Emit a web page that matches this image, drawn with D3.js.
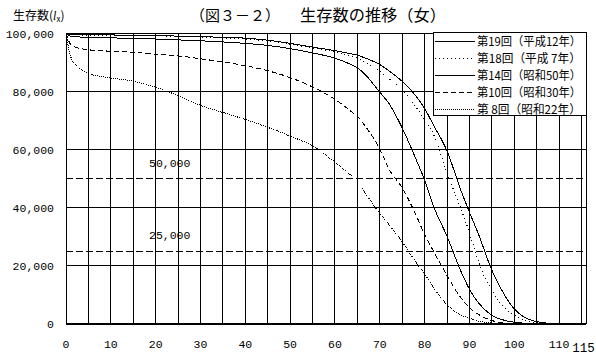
<!DOCTYPE html>
<html>
<head>
<meta charset="utf-8">
<script src="https://cdn.jsdelivr.net/npm/d3@7"></script>
<style>
  body { margin: 0; background: #fff; }
  svg { display: block; }
  .jp { font-family: "Noto Sans CJK JP", sans-serif; fill: #000; }
  .num { font-family: "Liberation Mono", "DejaVu Sans Mono", monospace; font-size: 11.5px; fill: #000; }
</style>
</head>
<body>
<div id="chart"></div>
<script>
var fullwidth = 596, fullheight = 355;

// ages (x) and survivors l(x) in thousands
var ages = [0,1,2,3,5,10,15,20,25,30,35,40,45,50,55,60,64,65,66,70,72,75,78,80,82,85,88,90,92,95,98,100,102,105,110];
var s19 = [100,99.7,99.65,99.6,99.55,99.5,99.4,99.3,99.1,98.9,98.7,98.4,97.7,96.6,95.3,94.1,92.9,92.6,92.0,89.3,87.2,83.5,78.6,74.2,68.4,59.6,46.4,38.5,31.0,18.5,9.5,5.2,2.6,0.8,0];
var s18 = [100,99.6,99.55,99.5,99.45,99.4,99.3,99.2,99.0,98.8,98.5,98.1,97.4,96.3,95.0,93.6,92.0,91.5,90.8,87.0,84.5,80.5,74.8,70.3,65.2,52.0,40.0,31.5,21.5,11.5,5.3,3.0,1.5,0.4,0];
var s14 = [100,99.0,98.9,98.8,98.7,98.5,98.3,98.1,97.8,97.5,97.1,96.6,95.9,94.8,93.3,91.5,89.0,88.2,87.0,79.8,76.0,67.5,57.0,49.5,40.5,30.2,18.5,12.0,7.3,3.0,1.2,0.6,0.3,0.1,0];
var s10 = [100,96.3,95.3,94.9,94.4,93.9,93.5,92.9,92.3,91.3,90.2,88.9,87.2,84.8,81.6,77.3,72.7,71.5,69.6,60.2,53.5,46.8,37.8,30.8,25.0,16.7,9.2,5.6,3.3,1.2,0.3,0.1,0,0,0];
var s8  = [100,92.3,89.5,88.0,86.3,84.7,83.6,81.5,78.6,75.3,72.8,70.4,67.7,64.7,61.3,55.7,50.6,null,46.7,38.1,34.3,28.3,21.4,17.2,12.5,6.7,3.2,2.0,1.0,0.3,0.1,0,0,0,0];

var seriesNames = ["第19回（平成12年）", "第18回（平成 7年）", "第14回（昭和50年）", "第10回（昭和30年）", "第 8回（昭和22年）"];
var seriesValues = [s19, s18, s14, s10, s8];
var seriesDash = [null, "1,3", null, "5,3", "1,1"];

var yTicks = [0, 20, 40, 60, 80, 100];
var refLines = [50, 25];
var xGrid = d3.range(0, 116, 5);
var xLabels = [0,10,20,30,40,50,60,70,80,90,100,110];
var xEndLabel = 115;

var fmt = function(v) { return d3.format(",")(v * 1000); };

var svg = d3.select("#chart").append("svg")
    .attr("width", fullwidth)
    .attr("height", fullheight);

var xScale = d3.scaleLinear().domain([0, 115]).range([66, 581.5]);
var yScale = d3.scaleLinear().domain([0, 100]).range([324, 33.5]);
var plotRight = 586;

// titles
svg.append("text").attr("class", "jp")
    .attr("x", 190).attr("y", 21)
    .attr("textLength", 90).attr("lengthAdjust", "spacingAndGlyphs")
    .style("font-size", "15px")
    .text("（図３－２）");
svg.append("text").attr("class", "jp")
    .attr("x", 300).attr("y", 21)
    .attr("textLength", 146).attr("lengthAdjust", "spacingAndGlyphs")
    .style("font-size", "16px")
    .text("生存数の推移（女）");

var ylab = svg.append("text").attr("class", "jp")
    .attr("x", 13).attr("y", 20)
    .style("font-size", "12px");
ylab.append("tspan").text("生存数(");
ylab.append("tspan").style("font-style", "italic").style("font-family", "Liberation Serif, serif").text("l");
ylab.append("tspan").attr("dy", 2).style("font-size", "8px").text("x");
ylab.append("tspan").attr("dy", -2).text(")");

// grid
var grid = svg.append("g").attr("shape-rendering", "crispEdges").attr("stroke", "#000");

grid.selectAll("line.vx")
    .data(xGrid)
    .enter().append("line")
    .attr("class", "vx")
    .attr("x1", function(d) { return xScale(d); })
    .attr("x2", function(d) { return xScale(d); })
    .attr("y1", yScale(100))
    .attr("y2", yScale(0));

grid.append("line")
    .attr("x1", plotRight).attr("x2", plotRight)
    .attr("y1", yScale(100)).attr("y2", yScale(0));

grid.selectAll("line.hy")
    .data(yTicks.slice(1))
    .enter().append("line")
    .attr("class", "hy")
    .attr("x1", xScale(0))
    .attr("x2", plotRight)
    .attr("y1", function(d) { return yScale(d); })
    .attr("y2", function(d) { return yScale(d); });

grid.selectAll("line.ref")
    .data(refLines)
    .enter().append("line")
    .attr("class", "ref")
    .attr("x1", xScale(0))
    .attr("x2", plotRight)
    .attr("y1", function(d) { return yScale(d); })
    .attr("y2", function(d) { return yScale(d); })
    .attr("stroke-dasharray", "7,3");

svg.selectAll("text.reflab")
    .data(refLines)
    .enter().append("text")
    .attr("class", "num reflab")
    .attr("x", 149)
    .attr("y", function(d) { return yScale(d) - 12; })
    .text(function(d) { return fmt(d); });

// curves
var line = d3.line()
    .defined(function(d) { return d[1] != null; })
    .x(function(d) { return xScale(d[0]); })
    .y(function(d) { return yScale(d[1]); })
    .curve(d3.curveMonotoneX);

svg.selectAll("path.curve")
    .data(seriesValues)
    .enter().append("path")
    .attr("class", "curve")
    .attr("d", function(vals) {
        return line(ages.map(function(a, i) { return [a, vals[i]]; }));
    })
    .attr("fill", "none")
    .attr("stroke", "#000")
    .attr("stroke-width", 1)
    .attr("shape-rendering", "crispEdges")
    .attr("stroke-dasharray", function(d, i) { return seriesDash[i]; });

// x axis base line
svg.append("line")
    .attr("x1", xScale(0)).attr("x2", plotRight)
    .attr("y1", yScale(0)).attr("y2", yScale(0))
    .attr("stroke", "#000").attr("stroke-width", 2.5)
    .attr("shape-rendering", "crispEdges");

// tick labels
svg.selectAll("text.ylab")
    .data(yTicks)
    .enter().append("text")
    .attr("class", "num ylab")
    .attr("x", 54)
    .attr("y", function(d) { return yScale(d) + 4; })
    .attr("text-anchor", "end")
    .text(function(d) { return fmt(d); });

svg.selectAll("text.xlab")
    .data(xLabels)
    .enter().append("text")
    .attr("class", "num xlab")
    .attr("x", function(d) { return xScale(d); })
    .attr("y", 348)
    .attr("text-anchor", "middle")
    .text(function(d) { return d; });

svg.append("text")
    .attr("class", "num")
    .attr("x", xScale(xEndLabel) + 2)
    .attr("y", 352)
    .attr("text-anchor", "middle")
    .style("font-size", "12.5px")
    .text(xEndLabel);

// legend
var legend = svg.append("g");
legend.append("rect")
    .attr("x", 433.5).attr("y", 32.5)
    .attr("width", 152.5).attr("height", 82.5)
    .attr("fill", "#fff").attr("stroke", "#000")
    .attr("shape-rendering", "crispEdges");

var rows = legend.selectAll("g.row")
    .data(seriesNames)
    .enter().append("g")
    .attr("class", "row")
    .attr("transform", function(d, i) { return "translate(0," + (40.5 + i * 17) + ")"; });

rows.append("line")
    .attr("x1", 435).attr("x2", 475)
    .attr("y1", 0.5).attr("y2", 0.5)
    .attr("stroke", "#000")
    .attr("shape-rendering", "crispEdges")
    .attr("stroke-dasharray", function(d, i) { return seriesDash[i]; });

rows.append("text")
    .attr("class", "jp")
    .attr("x", 477)
    .attr("y", 5)
    .attr("textLength", 104).attr("lengthAdjust", "spacingAndGlyphs")
    .style("font-size", "12px")
    .text(function(d) { return d; });
</script>
</body>
</html>
